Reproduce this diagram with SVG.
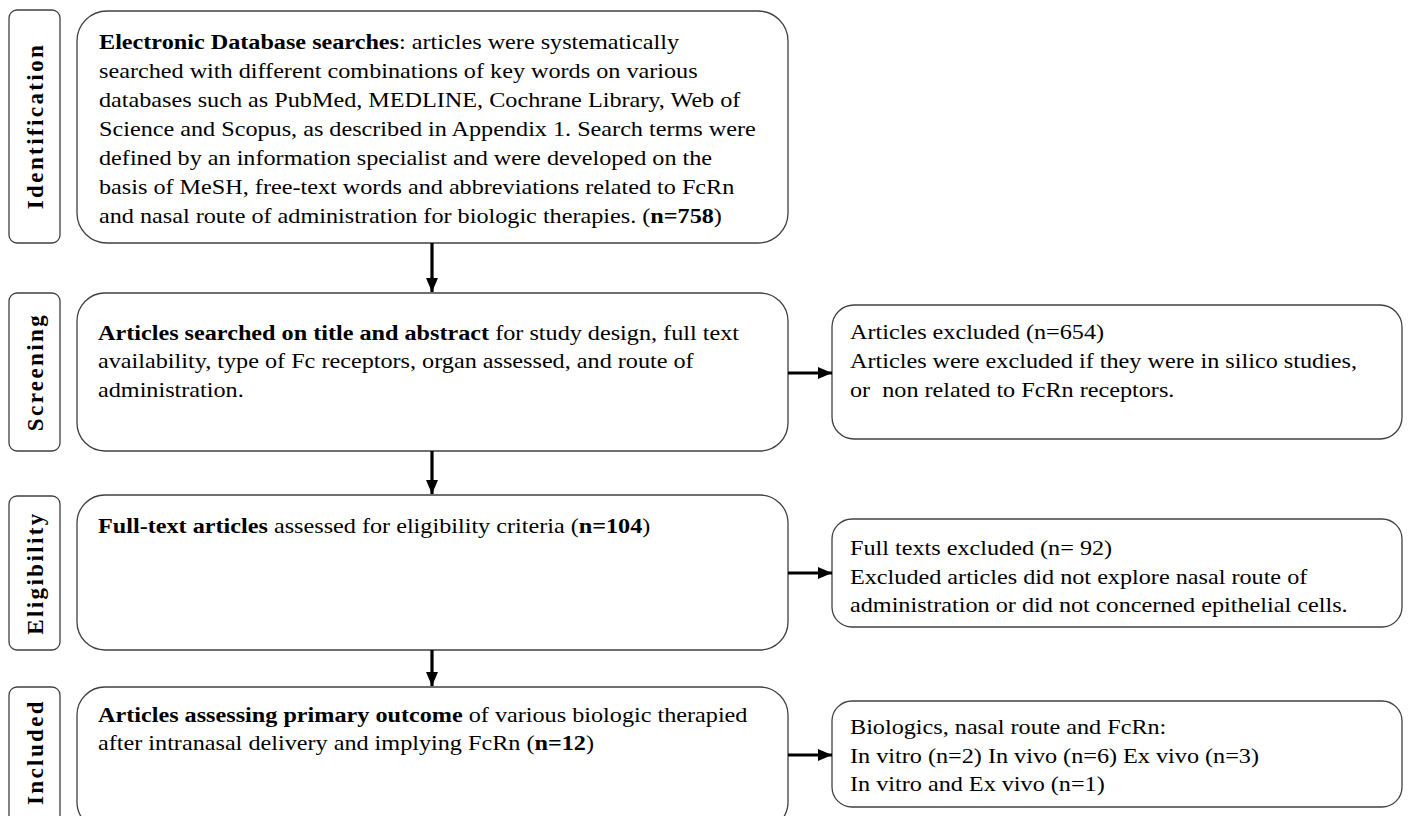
<svg xmlns="http://www.w3.org/2000/svg" width="1408" height="816" viewBox="0 0 1408 816">
<style>
.box{fill:#fff;stroke:#404040;stroke-width:1.3}
.t{font-family:"Liberation Serif","Times New Roman",serif;font-size:22px;fill:#000}
.lab{font-family:"Liberation Serif","Times New Roman",serif;font-size:23px;font-weight:bold;letter-spacing:2.4px;fill:#000}
.b{font-weight:bold}
.conn{stroke:#000;stroke-width:3.2;fill:none}
</style>
<defs>
<marker id="ah" markerUnits="userSpaceOnUse" markerWidth="14" markerHeight="14" refX="14" refY="7" orient="auto">
<path d="M0,1 L14,7 L0,13 Z" fill="#000"/>
</marker>
</defs>
<rect width="1408" height="816" fill="#fff"/>

<g id="label-identification">
<rect class="box" x="9" y="10" width="51" height="233" rx="8"/>
<text class="lab" transform="translate(43,126) rotate(-90)" text-anchor="middle">Identification</text>
</g>
<g id="label-screening">
<rect class="box" x="9" y="293" width="51" height="158" rx="8"/>
<text class="lab" transform="translate(43,372) rotate(-90)" text-anchor="middle">Screening</text>
</g>
<g id="label-eligibility">
<rect class="box" x="9" y="496" width="51" height="154" rx="8"/>
<text class="lab" transform="translate(43,573) rotate(-90)" text-anchor="middle">Eligibility</text>
</g>
<g id="label-included">
<rect class="box" x="9" y="687" width="51" height="150" rx="8"/>
<text class="lab" transform="translate(43,752) rotate(-90)" text-anchor="middle">Included</text>
</g>

<g id="identification">
<rect class="box" x="77" y="11" width="711" height="232" rx="30"/>
<text class="t" transform="matrix(1.1 0 0 1 99 49)"><tspan class="b">Electronic Database searches</tspan>: articles were systematically</text>
<text class="t" transform="matrix(1.1 0 0 1 99 78)">searched with different combinations of key words on various</text>
<text class="t" transform="matrix(1.1 0 0 1 99 107)">databases such as PubMed, MEDLINE, Cochrane Library, Web of</text>
<text class="t" transform="matrix(1.1 0 0 1 99 136)">Science and Scopus, as described in Appendix 1. Search terms were</text>
<text class="t" transform="matrix(1.1 0 0 1 99 165)">defined by an information specialist and were developed on the</text>
<text class="t" transform="matrix(1.1 0 0 1 99 194)">basis of MeSH, free-text words and abbreviations related to FcRn</text>
<text class="t" transform="matrix(1.1 0 0 1 99 223)">and nasal route of administration for biologic therapies. (<tspan class="b">n=758</tspan>)</text>
</g>

<g id="screening">
<rect class="box" x="77" y="293" width="711" height="158" rx="28"/>
<text class="t" transform="matrix(1.1 0 0 1 98 340)"><tspan class="b">Articles searched on title and abstract</tspan> for study design, full text</text>
<text class="t" transform="matrix(1.1 0 0 1 98 368)">availability, type of Fc receptors, organ assessed, and route of</text>
<text class="t" transform="matrix(1.1 0 0 1 98 397)">administration.</text>
</g>

<g id="excluded-screening">
<rect class="box" x="832" y="305" width="570" height="134" rx="22"/>
<text class="t" transform="matrix(1.1 0 0 1 850 339)">Articles excluded (n=654)</text>
<text class="t" transform="matrix(1.1 0 0 1 850 368)">Articles were excluded if they were in silico studies,</text>
<text class="t" transform="matrix(1.1 0 0 1 850 397)" xml:space="preserve">or  non related to FcRn receptors.</text>
</g>

<g id="eligibility">
<rect class="box" x="77" y="495" width="711" height="155" rx="28"/>
<text class="t" transform="matrix(1.1 0 0 1 98 533)"><tspan class="b">Full-text articles</tspan> assessed for eligibility criteria (<tspan class="b">n=104</tspan>)</text>
</g>

<g id="excluded-eligibility">
<rect class="box" x="832" y="519" width="570" height="108" rx="20"/>
<text class="t" transform="matrix(1.1 0 0 1 850 555)">Full texts excluded (n= 92)</text>
<text class="t" transform="matrix(1.1 0 0 1 850 584)">Excluded articles did not explore nasal route of</text>
<text class="t" transform="matrix(1.1 0 0 1 850 612)">administration or did not concerned epithelial cells.</text>
</g>

<g id="included">
<rect class="box" x="77" y="687" width="711" height="143" rx="28"/>
<text class="t" transform="matrix(1.1 0 0 1 98 722)"><tspan class="b">Articles assessing primary outcome</tspan> of various biologic therapied</text>
<text class="t" transform="matrix(1.1 0 0 1 98 750)">after intranasal delivery and implying FcRn (<tspan class="b">n=12</tspan>)</text>
</g>

<g id="included-detail">
<rect class="box" x="832" y="701" width="570" height="106" rx="20"/>
<text class="t" transform="matrix(1.1 0 0 1 850 734)">Biologics, nasal route and FcRn:</text>
<text class="t" transform="matrix(1.1 0 0 1 850 763)">In vitro (n=2) In vivo (n=6) Ex vivo (n=3)</text>
<text class="t" transform="matrix(1.1 0 0 1 850 791)">In vitro and Ex vivo (n=1)</text>
</g>

<g id="connectors">
<line class="conn" x1="432" y1="243" x2="432" y2="292" marker-end="url(#ah)"/>
<line class="conn" x1="432" y1="451" x2="432" y2="494" marker-end="url(#ah)"/>
<line class="conn" x1="432" y1="650" x2="432" y2="686" marker-end="url(#ah)"/>
<line class="conn" x1="788" y1="373" x2="832" y2="373" marker-end="url(#ah)"/>
<line class="conn" x1="788" y1="573" x2="832" y2="573" marker-end="url(#ah)"/>
<line class="conn" x1="788" y1="755" x2="832" y2="755" marker-end="url(#ah)"/>
</g>
</svg>
